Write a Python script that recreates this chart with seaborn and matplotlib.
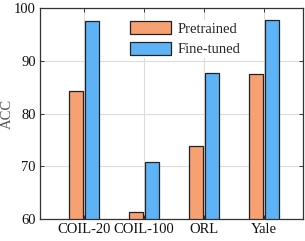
import matplotlib
matplotlib.use('Agg')
import matplotlib.pyplot as plt
import pandas as pd
import seaborn as sns

datasets = ['COIL-20', 'COIL-100', 'ORL', 'Yale']
pretrained = [84.3, 61.3, 73.8, 87.4]
finetuned = [97.5, 70.9, 87.7, 97.7]
yticks = [60, 70, 80, 90, 100]

df = pd.DataFrame({
    'Dataset': datasets * 2,
    'ACC': pretrained + finetuned,
    'Model': ['Pretrained'] * 4 + ['Fine-tuned'] * 4,
})

sns.set_theme(style='whitegrid')
plt.rcParams['font.family'] = ['Liberation Serif', 'DejaVu Serif']

fig = plt.figure(figsize=(3.05, 2.41), dpi=100)
ax = fig.add_axes([0.131, 0.091, 0.862, 0.876])

sns.barplot(data=df, x='Dataset', y='ACC', hue='Model',
            palette=['#F7A072', '#5EB3F7'], saturation=1, width=0.52, gap=0.1,
            edgecolor='#222222', linewidth=0.9, ax=ax)

ax.set_ylim(60, 100)
ax.set_xlim(-0.733, 3.65)
ax.set_yticks(yticks)
ax.set_xlabel('')
ax.set_ylabel('ACC', fontsize=10.5, color='#555555')
ax.yaxis.set_label_coords(-0.098, 0.5)
ax.grid(True, color='#dcdcdc', linewidth=0.8)
ax.set_axisbelow(True)
for s in ax.spines.values():
    s.set_visible(True)
    s.set_color('#333333')
    s.set_linewidth(0.9)
ax.tick_params(axis='both', direction='in', length=3, width=0.7, color='#333333',
               labelsize=10.5, labelcolor='#111111', top=True, right=True,
               bottom=True, left=True, pad=3)

leg = ax.legend(loc='upper left', bbox_to_anchor=(0.308, 0.978), frameon=True,
                fontsize=10.5, handlelength=2.8, handleheight=1.0,
                handletextpad=0.5, labelspacing=0.4, borderpad=0.1)
leg.get_frame().set_edgecolor('none')
leg.get_frame().set_facecolor('white')
leg.get_frame().set_alpha(1)
leg.get_frame().set_boxstyle('square', pad=0)

fig.savefig('out.png', dpi=100)
